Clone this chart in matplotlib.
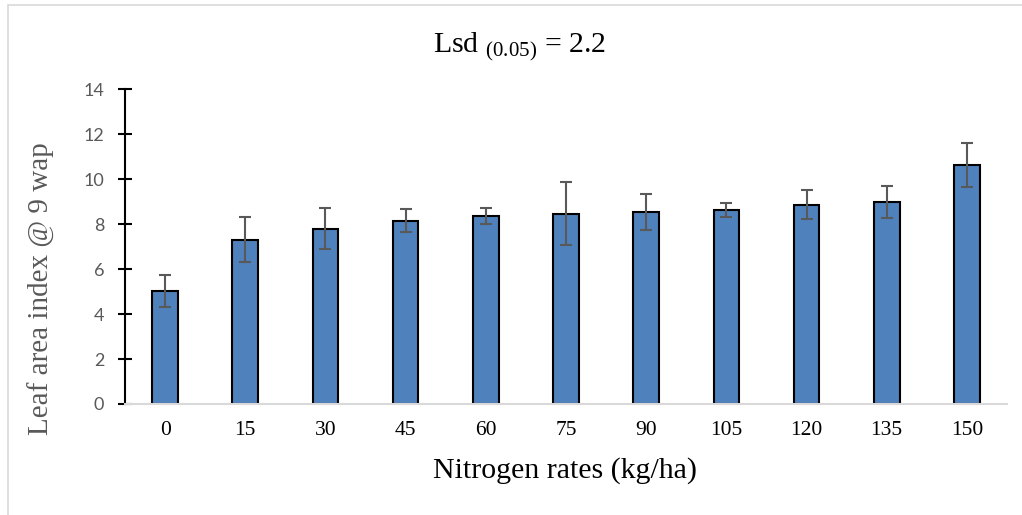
import matplotlib
matplotlib.use("Agg")
import matplotlib.pyplot as plt
from matplotlib.patches import Rectangle

categories = ["0", "15", "30", "45", "60", "75", "90", "105", "120", "135", "150"]
lai_values = [5.03, 7.31, 7.80, 8.16, 8.36, 8.47, 8.54, 8.64, 8.87, 8.99, 10.63]
lai_errors = [0.73, 1.00, 0.90, 0.50, 0.36, 1.40, 0.80, 0.30, 0.66, 0.73, 0.98]
y_ticks = [0, 2, 4, 6, 8, 10, 12, 14]

W, H = 1022, 515
fig = plt.figure(figsize=(W / 100, H / 100), dpi=100)
fig.patch.set_facecolor("white")

# outer chart frame (partly cropped)
fig.patches.append(Rectangle((8 / W, -0.05), 1.2, 1 - 5 / H + 0.05, transform=fig.transFigure,
                             fill=False, edgecolor="#d9d9d9", linewidth=1.2))

ax = fig.add_axes([125 / W, 1 - 404 / H, (1007 - 125) / W, (404 - 89.3) / H])
x = list(range(len(categories)))
ax.bar(x, lai_values, width=0.32, color="#4F81BD", edgecolor="black", linewidth=1.5, zorder=2)
ax.errorbar(x, lai_values, yerr=lai_errors, fmt="none", ecolor="#595959",
            elinewidth=1.5, capsize=4, capthick=1.5, zorder=3)

ax.set_xlim(-0.5, len(categories) - 0.5)
ax.set_ylim(0, 14)
ax.set_yticks(y_ticks)
ax.set_yticklabels([str(t) for t in y_ticks], fontfamily="Lato", fontsize=13, color="#595959")
ax.set_xticks(x)
ax.set_xticklabels(categories, fontfamily="Liberation Serif", fontsize=15.5, color="black")

for s in ["top", "right"]:
    ax.spines[s].set_visible(False)
ax.spines["left"].set_color("black")
ax.spines["left"].set_linewidth(1.5)
ax.spines["bottom"].set_color("#d9d9d9")
ax.spines["bottom"].set_linewidth(1.5)
ax.tick_params(axis="y", direction="inout", length=10, width=1.5, color="black", pad=10)
ax.tick_params(axis="x", length=0, pad=12)

plt.rcParams["mathtext.fontset"] = "custom"
plt.rcParams["mathtext.rm"] = "Liberation Serif"
plt.rcParams["mathtext.it"] = "Liberation Serif:italic"

fig.text(520 / W, 1 - 52 / H, r"Lsd $\mathrm{_{(0.05)}}$ = 2.2", ha="center", va="baseline",
         fontfamily="Liberation Serif", fontsize=21.5, color="black")
fig.text(565 / W, 1 - 478 / H, "Nitrogen rates (kg/ha)", ha="center", va="baseline",
         fontfamily="Liberation Serif", fontsize=21.5, color="black")
fig.text(41 / W, 1 - 289 / H, "Leaf area index @ 9 wap", ha="center", va="center", rotation=90,
         fontfamily="Liberation Serif", fontsize=21, color="#595959")

fig.savefig("out.png", dpi=100, facecolor="white")
